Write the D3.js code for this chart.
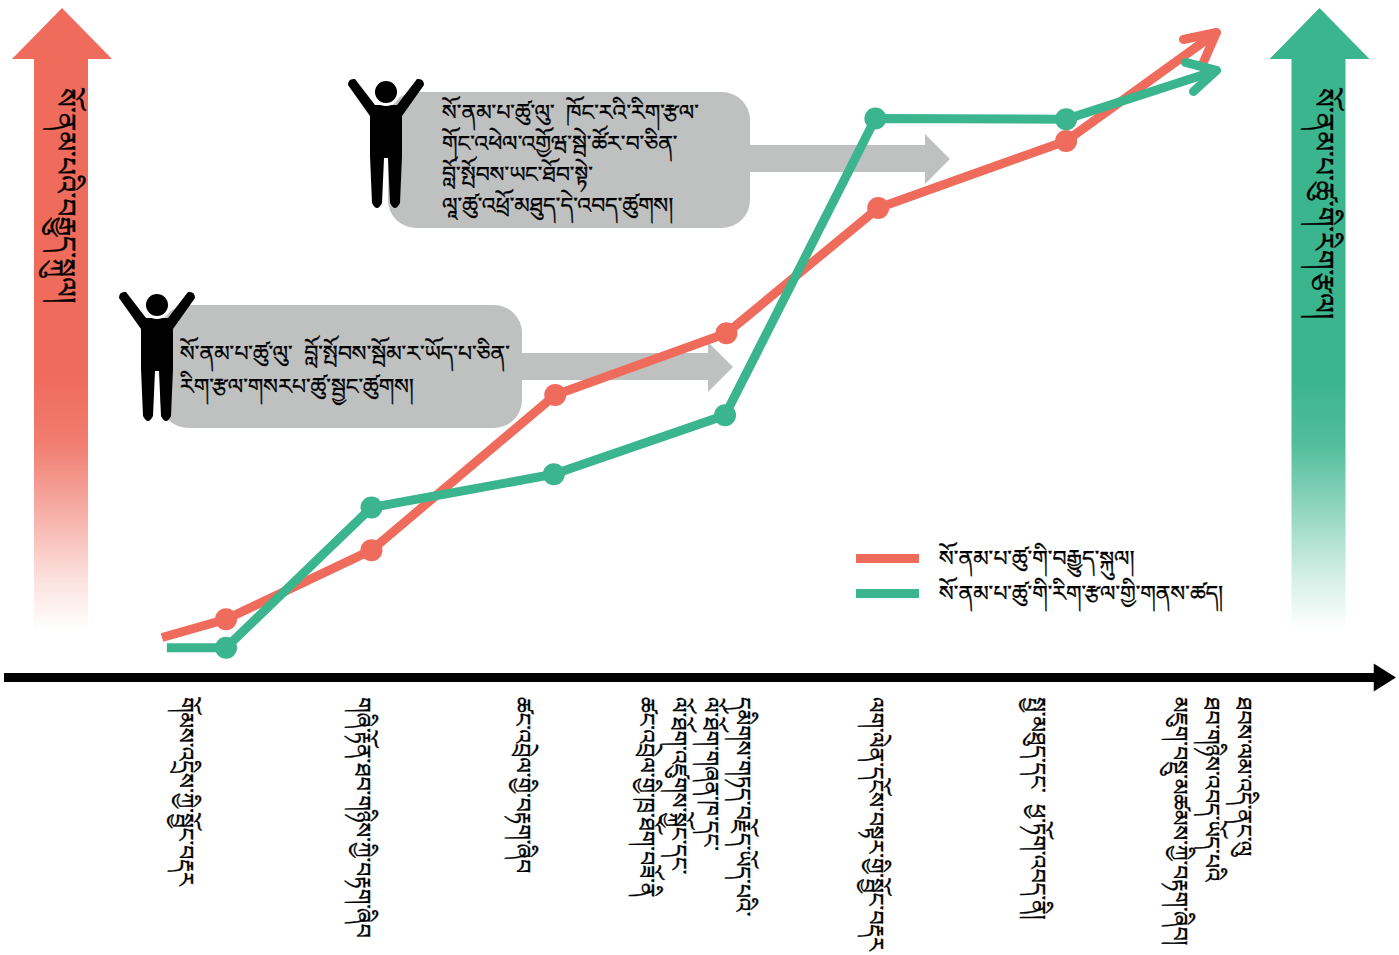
<!DOCTYPE html>
<html>
<head>
<meta charset="utf-8">
<script src="https://cdnjs.cloudflare.com/ajax/libs/d3/7.8.5/d3.min.js"></script>
<style>
	html, body { margin: 0; padding: 0; background: #fff; }
	svg { display: block; }
	text {
		font-family: "Noto Serif Tibetan", "Noto Sans Tibetan", "Jomolhari", "Microsoft Himalaya", "DejaVu Sans", sans-serif;
		fill: #000;
		stroke: #000;
		stroke-width: 0.35px;
		white-space: pre;
	}
</style>
</head>
<body>
<svg width="1399" height="955"></svg>
<script>
const red = '#ef6c5d';
const green = '#3bb58d';
const grey = '#bfc1c0';

// progress along the training, 0-100 on the horizontal arrow
const motivationProgress = [11.35, 15.95, 26.4, 39.6, 51.9, 62.8, 76.3, 87.1];
const motivation = [5.9, 8.6, 18.8, 41.7, 50.8, 69.3, 79.2, 95.2];
const skillProgress = [11.7, 15.95, 26.4, 39.5, 51.8, 62.6, 76.3, 87.1];
const skill = [4.4, 4.4, 25.1, 30.0, 38.7, 82.5, 82.4, 89.6];

const stagePosition = [13, 25.7, 37.2, 49.6, 62.6, 74.2, 86.7];
const stages = [
	['གོམས་འདྲིས་ཀྱི་སྦྱོང་བརྡར'],
	['གཞི་རྟོན་ཐབ་གཉིས་ཀྱི་བརྟག་ཞིབ'],
	['ཚང་འབྲེལ་གྱི་བརྟག་ཞིབ'],
	['དམིགས་གཏད་བརྗོད་ཡོད་པའི་', 'ལོ་ཐོག་གཞན་ཁ་དང་', 'ལོ་ཐོག་འཛུགས་སྐྱོང་དང་', 'ཚང་འབྲེལ་གྱི་ཁྲ་ཐོག་བཟོ་ནི'],
	['ལག་ལེན་དངོས་བསྟར་གྱི་སྦྱོང་བརྡར'],
	['སྤྱ་མཐུད་དང་  ཕྱ་ཏོག་འབད་ནི།'],
	['ཐབས་ལམ་འདི་ནང་ལུ', 'ཐབ་གཉིས་འབད་ཡོད་པའི', 'མཇུག་བསྡུ་མཚམས་ཀྱི་བརྟག་ཞིབ།']
];

const leftArrowLabel = 'སོ་ནམ་པའི་བརྒྱུད་སྐུལ།';
const rightArrowLabel = 'སོ་ནམ་པ་ཚུ་གི་རིག་རྩལ།';
const legendLabels = ['སོ་ནམ་པ་ཚུ་གི་བརྒྱུད་སྐུལ།', 'སོ་ནམ་པ་ཚུ་གི་རིག་རྩལ་གྱི་གནས་ཚད།'];
const upperNote = ['སོ་ནམ་པ་ཚུ་ལུ་  ཁོང་རའི་རིག་རྩལ་', 'གོང་འཕེལ་འགྱོཝ་སྦེ་ཚོར་བ་ཅིན་', 'བློ་སྤོབས་ཡང་ཐོབ་སྟེ་', 'ལཱ་ཚུ་འཕྲོ་མཐུད་དེ་འབད་ཚུགས།'];
const lowerNote = ['སོ་ནམ་པ་ཚུ་ལུ་  བློ་སྤོབས་སྦོམ་ར་ཡོད་པ་ཅིན་', 'རིག་རྩལ་གསརཔ་ཚུ་སྦྱང་ཚུགས།'];

const svg = d3.select('svg');

const x = d3.scaleLinear().domain([0, 100]).range([4, 1396]);
const y = d3.scaleLinear().domain([0, 100]).range([677.5, 0]);

const defs = svg.append('defs');
const fade = (id, colour) => {
	const g = defs.append('linearGradient')
		.attr('id', id)
		.attr('gradientUnits', 'userSpaceOnUse')
		.attr('x1', 0).attr('x2', 0).attr('y1', 630).attr('y2', 8);
	[[0, 0], [0.08, 0.2], [0.19, 0.55], [0.3, 0.88], [0.4, 1], [1, 1]].forEach(s => {
		g.append('stop').attr('offset', s[0]).attr('stop-color', colour).attr('stop-opacity', s[1]);
	});
};
fade('fade-red', red);
fade('fade-green', green);

// big side arrows
const drawSideArrow = (cx, id, label) => {
	const p = d3.path();
	p.moveTo(cx, 8);
	p.lineTo(cx + 50, 59);
	p.lineTo(cx + 26, 59);
	p.lineTo(cx + 26, 630);
	p.lineTo(cx - 28, 630);
	p.lineTo(cx - 28, 59);
	p.lineTo(cx - 50, 59);
	p.closePath();
	svg.append('path').attr('d', p.toString()).attr('fill', `url(#${id})`);
	svg.append('text')
		.attr('transform', `translate(${cx - 6},88) rotate(90)`)
		.attr('font-size', 28)
		.text(label);
};
drawSideArrow(62, 'fade-red', leftArrowLabel);
drawSideArrow(1319.5, 'fade-green', rightArrowLabel);

// horizontal arrow
svg.append('line')
	.attr('x1', x(0)).attr('x2', x(98.5))
	.attr('y1', y(0)).attr('y2', y(0))
	.attr('stroke', '#000').attr('stroke-width', 9);
svg.append('path')
	.attr('d', `M${x(100)},${y(0)}L${x(98.4)},${y(0) - 14}L${x(98.4)},${y(0) + 14}Z`)
	.attr('fill', '#000');

// grey speech boxes
const note = (bx, by, w, h, arrowTop, arrowEnd, lines, tx, ty, lineGap) => {
	svg.append('path')
		.attr('d', `M${bx + w},${arrowTop}H${arrowEnd - 25}V${arrowTop - 11}L${arrowEnd},${arrowTop + 14}L${arrowEnd - 25},${arrowTop + 39}V${arrowTop + 27}H${bx + w}Z`)
		.attr('fill', grey);
	svg.append('rect')
		.attr('x', bx).attr('y', by).attr('width', w).attr('height', h)
		.attr('rx', 28).attr('ry', 28)
		.attr('fill', grey);
	svg.append('g').selectAll('text').data(lines).enter().append('text')
		.attr('x', tx)
		.attr('y', (d, i) => ty + i * lineGap)
		.attr('font-size', 22)
		.text(d => d);
};
note(388, 92, 362, 136, 145, 950, upperNote, 442, 120, 31);
note(160, 305, 362, 123, 353, 733, lowerNote, 180, 361, 33);

// person with raised arms
const person = (cx, cy) => {
	const g = svg.append('g').attr('transform', `translate(${cx},${cy})`);
	g.append('path')
		.attr('d', 'M-38,-7L-16,24V64L-14,111Q-9,121,-4,111L-2,66H2L4,111Q9,121,14,111L16,64V24L38,-7Q38,-14,31,-13L11,13H-11L-31,-13Q-38,-14,-38,-7Z')
		.attr('fill', '#000');
	g.append('circle').attr('r', 14).attr('fill', '#fff');
	g.append('circle').attr('r', 11).attr('fill', '#000');
};
person(386, 92);
person(157, 305);

// lines
const line = d3.line();
const arrowBarbs = (tip, barbs) => barbs.map(b => [[tip[0] + b[0], tip[1] + b[1]], tip]);

const drawSeries = (xs, ys, colour, barbs) => {
	const pts = xs.map((d, i) => [x(d), y(ys[i])]);
	const g = svg.append('g');
	g.append('path')
		.attr('d', line(pts))
		.attr('fill', 'none').attr('stroke', colour).attr('stroke-width', 9);
	arrowBarbs(pts[pts.length - 1], barbs).forEach(b => {
		g.append('path')
			.attr('d', line(b))
			.attr('fill', 'none').attr('stroke', colour).attr('stroke-width', 9)
			.attr('stroke-linecap', 'round');
	});
	g.selectAll('circle').data(pts.slice(1, -1)).enter().append('circle')
		.attr('cx', d => d[0]).attr('cy', d => d[1])
		.attr('r', 11).attr('fill', colour);
};
drawSeries(motivationProgress, motivation, red, [[-33, 7], [-14, 32]]);
drawSeries(skillProgress, skill, green, [[-31, -8], [-23, 21]]);

// legend
const legend = svg.append('g').selectAll('g').data(legendLabels).enter().append('g')
	.attr('transform', (d, i) => `translate(856,${558.5 + i * 35})`);
legend.append('rect')
	.attr('y', -4.5).attr('width', 63).attr('height', 9)
	.attr('fill', (d, i) => [red, green][i]);
legend.append('text')
	.attr('x', 83).attr('y', 7)
	.attr('font-size', 22)
	.text(d => d);

// stage labels under the axis
const stageGroups = svg.append('g').selectAll('g').data(stages).enter().append('g')
	.attr('transform', (d, i) => `translate(${x(stagePosition[i])},697)`);
stageGroups.selectAll('text').data(d => d).enter().append('text')
	.attr('transform', (d, i, nodes) => `translate(${(nodes.length - 1) / 2 * 32 - i * 32 - 7},0) rotate(90)`)
	.attr('font-size', 22)
	.text(d => d);
</script>
</body>
</html>
